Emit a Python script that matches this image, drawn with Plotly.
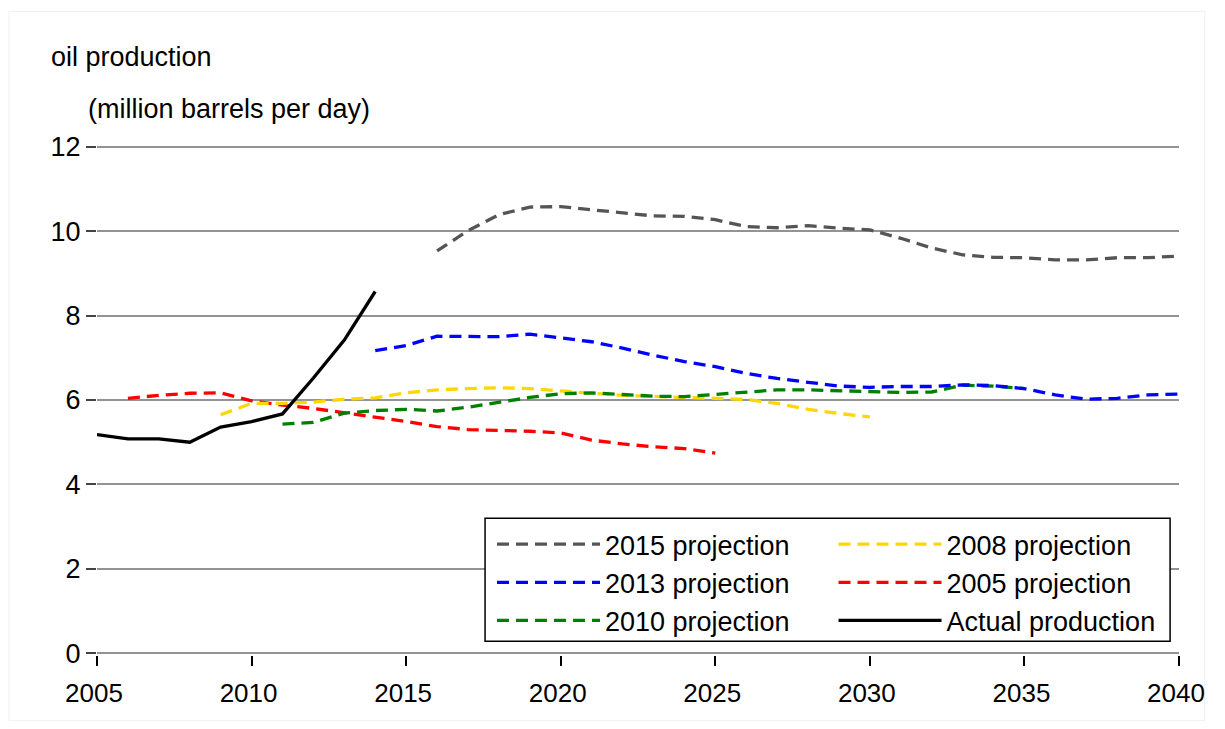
import plotly.graph_objects as go

# ---- data ----
years_actual = list(range(2005, 2015))
actual = [5.18, 5.08, 5.08, 5.00, 5.36, 5.49, 5.67, 6.52, 7.42, 8.57]

years_2005 = list(range(2006, 2026))
proj_2005 = [6.04, 6.11, 6.16, 6.17, 5.98, 5.88, 5.80, 5.70, 5.60, 5.49,
             5.37, 5.30, 5.28, 5.26, 5.22, 5.05, 4.96, 4.89, 4.85, 4.74]

years_2008 = list(range(2009, 2031))
proj_2008 = [5.65, 5.92, 5.92, 5.95, 6.02, 6.05, 6.17, 6.24, 6.27, 6.29,
             6.27, 6.21, 6.16, 6.11, 6.08, 6.06, 6.04, 6.01, 5.92, 5.78,
             5.68, 5.60]

years_2010 = list(range(2011, 2036))
proj_2010 = [5.43, 5.47, 5.69, 5.75, 5.78, 5.74, 5.83, 5.95, 6.06, 6.15,
             6.17, 6.13, 6.09, 6.08, 6.13, 6.18, 6.24, 6.24, 6.22, 6.21,
             6.18, 6.19, 6.35, 6.33, 6.27]

years_2013 = list(range(2014, 2041))
proj_2013 = [7.17, 7.29, 7.51, 7.50, 7.50, 7.56, 7.47, 7.38, 7.23, 7.06,
             6.91, 6.79, 6.63, 6.51, 6.42, 6.33, 6.30, 6.32, 6.32, 6.36,
             6.34, 6.27, 6.12, 6.02, 6.04, 6.12, 6.14]

years_2015 = list(range(2016, 2041))
proj_2015 = [9.53, 10.01, 10.39, 10.57, 10.58, 10.51, 10.43, 10.36, 10.35, 10.27,
             10.11, 10.08, 10.13, 10.07, 10.03, 9.83, 9.60, 9.44, 9.38, 9.37,
             9.32, 9.32, 9.37, 9.37, 9.41]

x_ticks = [2005, 2010, 2015, 2020, 2025, 2030, 2035, 2040]
y_ticks = [0, 2, 4, 6, 8, 10, 12]

FONT = "Liberation Sans, Arial, sans-serif"
FS = 27
DASH = "12px,7px"
LW = 3.3

# ---- layout geometry (page pixels; page has an 8px body margin) ----
OFF = 8
W, H = 1225 - 2 * OFF, 729 - 2 * OFF
PL, PR = 97, 1190            # plot left/right on page
Y_PAD = 0.04                 # tiny range pad so the 0 and 12 grid lines are drawn
PPU = 506 / 12.0
PT = 147 - Y_PAD * PPU       # plot top on page
PB = 653 + Y_PAD * PPU       # plot bottom on page


def xp(px):
    return (px - PL) / (PR - PL)


def yp(py):
    return (PB - py) / (PB - PT)


fig = go.Figure()

# drawing order (bottom to top), legend column assignment
series = [
    ("2005 projection", years_2005, proj_2005, "#ff0000", DASH, "legend2", 2),
    ("2008 projection", years_2008, proj_2008, "#ffd700", DASH, "legend2", 1),
    ("2010 projection", years_2010, proj_2010, "#008000", DASH, "legend", 3),
    ("2013 projection", years_2013, proj_2013, "#0000ff", DASH, "legend", 2),
    ("2015 projection", years_2015, proj_2015, "#555555", DASH, "legend", 1),
    ("Actual production", years_actual, actual, "#000000", "solid", "legend2", 3),
]
for name, xs, ys, color, dash, leg, rank in series:
    fig.add_trace(go.Scatter(
        x=xs, y=ys, mode="lines", name=name,
        line=dict(color=color, width=LW, dash=dash),
        legend=leg, legendrank=rank, legendgroup=name,
    ))

legend_common = dict(
    orientation="v", xanchor="left", yanchor="top",
    bgcolor="rgba(0,0,0,0)", borderwidth=0,
    itemwidth=103, tracegroupgap=0, traceorder="grouped",
    font=dict(family=FONT, size=FS, color="black"),
)

fig.update_layout(
    width=W, height=H,
    margin=dict(l=PL - OFF, r=W - (PR - OFF), t=round(PT - OFF), b=round(H - (PB - OFF))),
    autosize=False,
    paper_bgcolor="white", plot_bgcolor="white",
    font=dict(family=FONT, size=FS, color="black"),
    showlegend=True,
    legend=dict(x=xp(496), y=yp(520), **legend_common),
    legend2=dict(x=xp(841), y=yp(520), **legend_common),
    xaxis=dict(
        range=[2005, 2040], tickvals=x_ticks, ticktext=[str(v) for v in x_ticks],
        showgrid=False, zeroline=False, showline=False,
        ticks="outside", ticklen=10, tickwidth=1.5, tickcolor="black",
        ticklabelstandoff=5, ticklabelshift=-3, ticklabeloverflow="allow",
        tickfont=dict(family=FONT, size=26, color="black"),
    ),
    yaxis=dict(
        range=[-Y_PAD, 12 + Y_PAD], tickvals=y_ticks, ticktext=[str(v) for v in y_ticks],
        showgrid=True, gridcolor="#939393", gridwidth=1.5,
        zeroline=False, showline=False,
        ticks="outside", ticklen=10, tickwidth=1.5, tickcolor="#444444",
        ticklabelstandoff=0,
    ),
    annotations=[
        dict(text="oil production", xref="paper", yref="paper",
             x=xp(49), y=yp(57), xanchor="left", yanchor="middle",
             showarrow=False, font=dict(family=FONT, size=FS, color="black")),
        dict(text="(million barrels per day)", xref="paper", yref="paper",
             x=xp(86), y=yp(109), xanchor="left", yanchor="middle",
             showarrow=False, font=dict(family=FONT, size=FS, color="black")),
    ],
    shapes=[
        # faint outer frame
        dict(type="rect", xref="paper", yref="paper",
             x0=xp(OFF), x1=xp(1216), y0=yp(720), y1=yp(12),
             line=dict(color="#eef1f1", width=1), layer="below"),
        # legend box
        dict(type="rect", xref="paper", yref="paper",
             x0=xp(489), x1=xp(1181), y0=yp(641), y1=yp(518),
             line=dict(color="black", width=1.5), fillcolor="white", layer="above"),
    ],
)

fig.write_html("out.html", config={"responsive": False, "displayModeBar": False})
